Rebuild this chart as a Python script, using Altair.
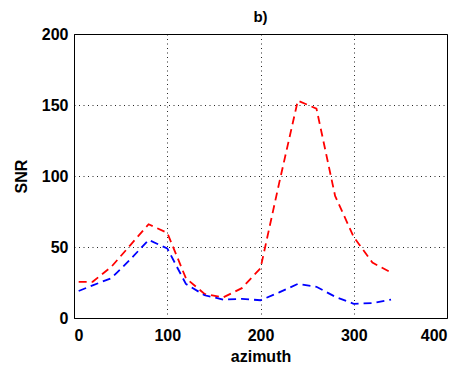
import altair as alt
import pandas as pd

azimuth = [5, 20, 40, 60, 80, 100, 120, 140, 160, 180, 200, 220, 240, 260, 280, 300, 320, 340]
snr_red = [25.5, 25.5, 36, 51, 66, 60, 28, 17, 14.5, 21, 35, 95, 153, 147.5, 86, 57, 39, 32]
snr_blue = [19, 23, 28, 41, 55, 49, 24, 16, 13, 13.5, 12.5, 18, 24, 22, 15, 10, 10.5, 13]
series = ["red", "blue"]
colors = ["#ff0000", "#0000ff"]
x_ticks = [0, 100, 200, 300, 400]
y_ticks = [0, 50, 100, 150, 200]

rows = []
for name, vals in zip(series, [snr_red, snr_blue]):
    for a, v in zip(azimuth, vals):
        rows.append({"azimuth": a, "SNR": v, "series": name})
df = pd.DataFrame(rows)

FONT = "Liberation Sans"

chart = alt.Chart(df).mark_line(strokeWidth=1.8, strokeDash=[8, 5]).encode(
    x=alt.X("azimuth:Q", scale=alt.Scale(domain=[0, 400], nice=False),
            axis=alt.Axis(values=x_ticks, title="azimuth", grid=True, ticks=False,
                          domain=False, labelPadding=9, titlePadding=5)),
    y=alt.Y("SNR:Q", scale=alt.Scale(domain=[0, 200], nice=False),
            axis=alt.Axis(values=y_ticks, title="SNR", grid=True, ticks=False,
                          domain=False, labelPadding=6, titlePadding=12)),
    color=alt.Color("series:N", scale=alt.Scale(domain=series, range=colors), legend=None),
    detail="series:N",
).properties(
    width=373, height=284,
    background="white",
    title=alt.TitleParams("b)", fontSize=15, font=FONT, fontWeight="bold", offset=1, anchor="middle"),
    autosize=alt.AutoSizeParams(type="none"),
    padding={"left": 74, "top": 34, "right": 13, "bottom": 51},
).configure_view(
    stroke="black", strokeWidth=1
).configure_axis(
    gridColor="black", gridDash=[1, 3.5], gridOpacity=0.85, gridWidth=1,
    labelFont=FONT, labelFontSize=16, labelFontWeight="bold", labelColor="black",
    titleFont=FONT, titleFontSize=16, titleFontWeight="bold", titleColor="black",
)

chart.save("out.html", embed_options={"renderer": "svg", "actions": False})
